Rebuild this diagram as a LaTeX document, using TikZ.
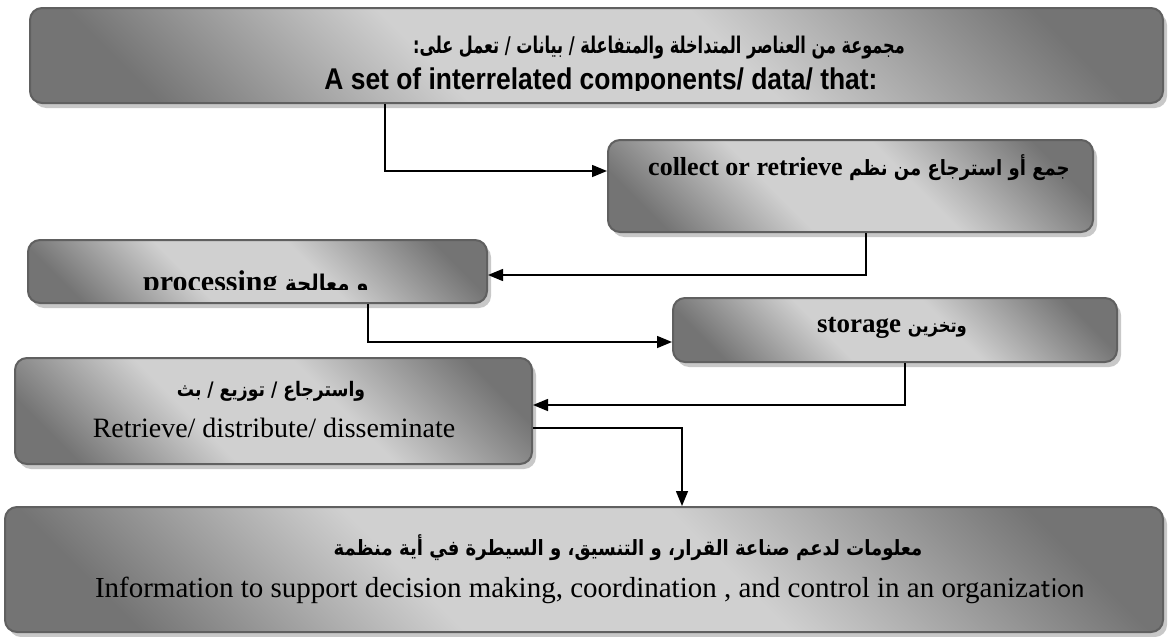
\documentclass[tikz,border=0pt]{standalone}
\usepackage{fontspec}
\setmainfont{Liberation Serif}
\newfontfamily\arabicfont[Script=Arabic,FakeStretch=0.86]{DejaVu Sans}
\newfontfamily\arabictop[Script=Arabic,FakeStretch=0.7]{DejaVu Sans}
\newfontfamily\condsans[FakeStretch=0.88]{Liberation Sans}
\TeXXeTstate=1
\usetikzlibrary{shadows,arrows.meta}

\definecolor{shdark}{HTML}{747474}
\definecolor{shlight}{HTML}{D0D0D0}
\definecolor{bordergray}{HTML}{606060}
\definecolor{shadowgray}{HTML}{C8C8C8}

\pgfdeclarehorizontalshading{boxshade}{100bp}{color(0bp)=(shdark); color(22bp)=(shdark); color(40bp)=(shlight); color(58bp)=(shlight); color(78bp)=(shdark); color(100bp)=(shdark)}

\tikzset{
  box/.style={draw=bordergray, line width=2pt, rounded corners=12pt,
    shading=boxshade, shading angle=45, inner sep=0pt,
    drop shadow={shadow xshift=4pt, shadow yshift=-5pt, fill=shadowgray, opacity=1}},
  link/.style={line width=1.5pt, -{Triangle[length=15pt,width=12pt]}},
  lbl/.style={inner sep=0pt, anchor=base},
}

\begin{document}
\begin{tikzpicture}[x=1pt,y=-1pt]
\useasboundingbox (0,0) rectangle (1168,637);

% boxes
\node[box, minimum width=1133pt, minimum height=95pt]  (top)     at (596.5,55.5) {};
\node[box, minimum width=485pt,  minimum height=92pt]  (collect) at (850.5,186) {};
\node[box, minimum width=459pt,  minimum height=63pt]  (proc)    at (257.5,271.5) {};
\node[box, minimum width=444pt,  minimum height=64pt]  (storage) at (895,330) {};
\node[box, minimum width=517pt,  minimum height=106pt] (retr)    at (273.5,411) {};
\node[box, minimum width=1158pt, minimum height=125pt] (info)    at (584,569.5) {};

% texts
\node[lbl, font=\arabictop\bfseries\fontsize{23}{26}\selectfont] (t1a) at (659,53) {\beginR مجموعة من العناصر المتداخلة والمتفاعلة / بيانات / تعمل على:\endR};
\begin{scope}
  \clip (30,8) rectangle (1163,90);
  \node[lbl, font=\condsans\bfseries\fontsize{30}{34}\selectfont] (t1b) at (601,89) {A set of interrelated components/ data/ that:};
\end{scope}

\node[lbl, font=\fontsize{26}{30}\selectfont] (t2) at (859,175) {{\bfseries collect or retrieve} {\arabicfont\bfseries\fontsize{21}{24}\selectfont\beginR جمع أو استرجاع من نظم\endR}};

\begin{scope}
  \clip (28,240) rectangle (487,289);
  \node[lbl, font=\fontsize{30}{34}\selectfont] (t3) at (256,291) {{\bfseries processing} {\arabicfont\bfseries\fontsize{23}{26}\selectfont\beginR و معالجة\endR}};
\end{scope}

\node[lbl, font=\fontsize{27}{31}\selectfont] (t4) at (892,332) {{\bfseries storage} {\arabicfont\bfseries\fontsize{19}{22}\selectfont\beginR وتخزين\endR}};

\node[lbl, font=\arabicfont\bfseries\fontsize{20}{23}\selectfont] (t5a) at (271,396) {\beginR واسترجاع / توزيع / بث\endR};
\node[lbl, font=\fontsize{28}{32}\selectfont] (t5b) at (274,437) {Retrieve/ distribute/ disseminate};

\node[lbl, font=\arabicfont\bfseries\fontsize{21}{24}\selectfont] (t6a) at (628,555) {\beginR معلومات لدعم صناعة القرار، و التنسيق، و السيطرة في أية منظمة\endR};
\node[lbl, font=\fontsize{29}{33}\selectfont] (t6b) at (590,597) {Information to support decision making, coordination , and control in an organiz{\sffamily ation}};

% connectors
\draw[link] (top.south -| 385,0) |- (collect.west |- 0,171);
\draw[link] (collect.south -| 866,0) |- (proc.east |- 0,275);
\draw[link] (proc.south -| 368,0) |- (storage.west |- 0,342);
\draw[link] (storage.south -| 905,0) |- (retr.east |- 0,405);
\draw[link] (retr.east |- 0,428) -| (info.north -| 682,0);
\end{tikzpicture}
\end{document}
